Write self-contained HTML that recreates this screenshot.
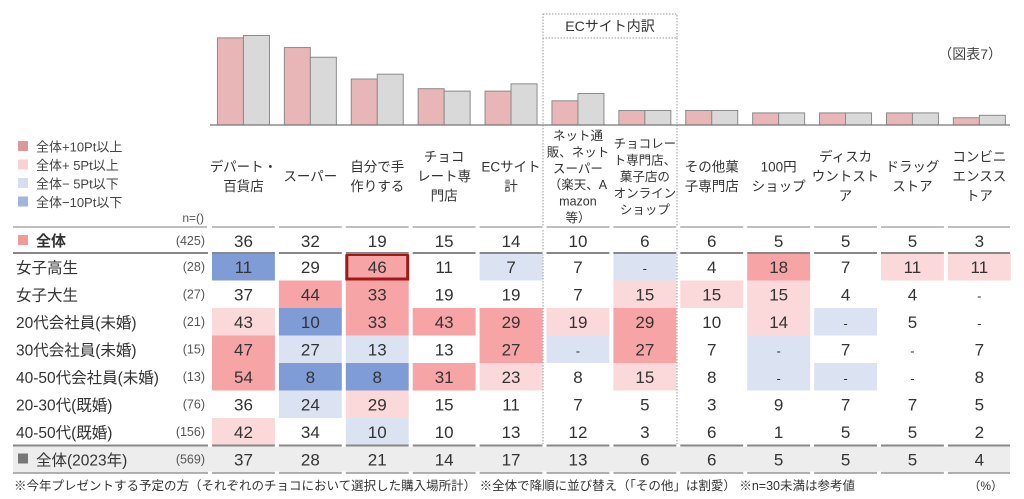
<!DOCTYPE html>
<html><head><meta charset="utf-8"><style>
html,body{margin:0;padding:0;background:#fff;}
svg{display:block;font-family:"Liberation Sans","Noto Sans CJK JP",sans-serif;}
</style></head><body>
<svg id="chart" width="1024" height="499" viewBox="0 0 1024 499"></svg>
<script>
const categories=[["デパート・","百貨店"],["スーパー"],["自分で手","作りする"],["チョコ","レート専","門店"],["ECサイト","計"],["ネット通","販、ネット","スーパー","（楽天、A","mazon","等）"],["チョコレー","ト専門店、","菓子店の","オンライン","ショップ"],["その他菓","子専門店"],["100円","ショップ"],["ディスカ","ウントスト","ア"],["ドラッグ","ストア"],["コンビニ","エンスス","トア"]];
const total2024=[36,32,19,15,14,10,6,6,5,5,5,3];
const total2023=[37,28,21,14,17,13,6,6,5,5,5,4];
const rowLabels=["女子高生","女子大生","20代会社員(未婚)","30代会社員(未婚)","40-50代会社員(未婚)","20-30代(既婚)","40-50代(既婚)"];
const rowN=["(28)","(27)","(21)","(15)","(13)","(76)","(156)"];
const rowValues=[
["11","29","46","11","7","7","-","4","18","7","11","11"],
["37","44","33","19","19","7","15","15","15","4","4","-"],
["43","10","33","43","29","19","29","10","14","-","5","-"],
["47","27","13","13","27","-","27","7","-","7","-","7"],
["54","8","8","31","23","8","15","8","-","-","-","8"],
["36","24","29","15","11","7","5","3","9","7","7","5"],
["42","34","10","10","13","12","3","6","1","5","5","2"]];
const rowLevels=[
[-2,0,2,0,-1,0,-1,0,2,0,1,1],
[0,2,2,0,0,0,1,1,1,0,0,0],
[1,-2,2,2,2,1,2,0,1,-1,0,0],
[2,-1,-1,0,2,-1,2,0,-1,0,0,0],
[2,-2,-2,2,1,0,1,0,-1,-1,0,0],
[0,-1,1,0,0,0,0,0,0,0,0,0],
[1,0,-1,0,0,0,0,0,0,0,0,0]];
const legendLabels=["全体+10Pt以上","全体+ 5Pt以上","全体− 5Pt以下","全体−10Pt以下"];

const svg=document.getElementById('chart');
const NS='http://www.w3.org/2000/svg';
function mk(tag,attrs,txt){const e=document.createElementNS(NS,tag);for(const k in attrs)e.setAttribute(k,attrs[k]);if(txt!==undefined)e.textContent=txt;svg.appendChild(e);return e;}
const colX0=210,colW=66.9;
const xCol=i=>colX0+i*colW;
const baseY=125,unit=2.42;
const yBar=v=>baseY-v*unit;
const rowTop=253,rowH=27.5;
const yRow=r=>rowTop+r*rowH;
const levelFill={"2":"#f7a4a7","1":"#fbd8d9","0":"none","-1":"#dbe3f3","-2":"#809cd7"};

let e=mk('rect',{x:543,y:14,width:134,height:24,fill:'none',stroke:'#999','stroke-dasharray':'1.5,1.5'});

e=mk('text',{x:610,y:31,'text-anchor':'middle','font-size':14,fill:'#333'},'ECサイト内訳');

[543,677].forEach((x,i)=>{const l=mk('line',{x1:x,y1:38,x2:x,y2:473,stroke:'#999','stroke-dasharray':'1.5,1.5'});});
e=mk('text',{x:1002,y:59,'text-anchor':'end','font-size':14,fill:'#444'},'（図表7）');


categories.forEach((c,i)=>{
  const cx=xCol(i)+colW/2;
  const b1=mk('rect',{x:cx-26,y:yBar(total2024[i]),width:26,height:total2024[i]*unit,fill:'#e9b6b8',stroke:'#8a8a8a','stroke-width':1});
  
  const b2=mk('rect',{x:cx,y:yBar(total2023[i]),width:26,height:total2023[i]*unit,fill:'#d9d9d9',stroke:'#8a8a8a','stroke-width':1});
  
  const lh=c.length>4?16.4:19.5, fs=c.length>4?12.5:13.5;
  const y0=(c.length>4?176:176)-(c.length-1)*lh/2+5;
  const t=mk('text',{'text-anchor':'middle','font-size':fs,fill:'#333'});
  
  c.forEach((ln,k)=>{const s=document.createElementNS(NS,'tspan');s.setAttribute('x',cx);s.setAttribute('y',y0+k*lh);s.textContent=ln;t.appendChild(s);});
});
e=mk('line',{x1:210,y1:baseY,x2:1010,y2:baseY,stroke:'#777','stroke-width':1.2});


const legCols=["#d99a9c","#f8d2d2","#d6ddef","#a2b5de"];
legendLabels.forEach((l,i)=>{
  const y=147+i*18.5;
  const r=mk('rect',{x:18,y:y-6,width:10,height:10,fill:legCols[i]});
  
  const t=mk('text',{x:36,y:y+4.5,'font-size':13,fill:'#444'},l);
  
});
e=mk('text',{x:204,y:222,'text-anchor':'end','font-size':12,fill:'#555'},'n=()');


e=mk('line',{x1:13,y1:227,x2:207,y2:227,stroke:'#999','stroke-width':1.2});

e=mk('line',{x1:212,y1:227,x2:1010,y2:227,stroke:'#999','stroke-width':1.2});


e=mk('rect',{x:18,y:235,width:10,height:10,fill:'#f29a9a'});

e=mk('text',{x:36,y:246,'font-size':15,'font-weight':'bold',fill:'#333'},'全体');

e=mk('text',{x:205,y:245,'text-anchor':'end','font-size':12.5,fill:'#555'},'(425)');

total2024.forEach((v,i)=>{const t=mk('text',{x:xCol(i)+colW/2,y:247,'text-anchor':'middle','font-size':17,fill:'#333'},v);});

e=mk('rect',{x:13,y:yRow(7),width:997,height:rowH,fill:'#ededed'});


rowValues.forEach((row,r)=>{
  const y=yRow(r);
  const lb=mk('text',{x:16,y:y+20,'font-size':15.5,fill:'#333'},rowLabels[r]);
  
  const nn=mk('text',{x:205,y:y+18,'text-anchor':'end','font-size':12.5,fill:'#555'},rowN[r]);
  
  row.forEach((v,i)=>{
    const f=levelFill[rowLevels[r][i]];
    if(f!=='none'){const c=mk('rect',{x:xCol(i)+2,y:y,width:colW-4,height:rowH,fill:f});}
    const t=mk('text',{x:xCol(i)+colW/2,y:y+20,'text-anchor':'middle','font-size':v==='-'?13:17,fill:'#333'},v);
    
  });
});
e=mk('rect',{x:xCol(2)+3,y:yRow(0)+1.5,width:colW-6,height:rowH-3,fill:'none',stroke:'#a01818','stroke-width':3});


const r7=yRow(7);
e=mk('rect',{x:18,y:r7+8,width:10,height:10,fill:'#777'});

e=mk('text',{x:36,y:r7+20,'font-size':15.5,fill:'#333'},'全体(2023年)');

e=mk('text',{x:205,y:r7+18,'text-anchor':'end','font-size':12.5,fill:'#555'},'(569)');

total2023.forEach((v,i)=>{const t=mk('text',{x:xCol(i)+colW/2,y:r7+20,'text-anchor':'middle','font-size':17,fill:'#333'},v);});

[[yRow(0),'#888',2],[yRow(7),'#888',2],[yRow(8),'#999',1.5]].forEach((a,k)=>{
  const l=mk('line',{x1:13,y1:a[0],x2:1010,y2:a[0],stroke:a[1],'stroke-width':a[2]});
  
});
[yRow(0),yRow(7),yRow(8),227].forEach((yy,k)=>{
  for(let i=0;i<12;i++){const g=mk('rect',{x:xCol(i)-2,y:yy-1.5,width:4,height:3,fill:'#fff'});}
});

e=mk('text',{x:14,y:490,'font-size':12.5,fill:'#333'},'※今年プレゼントする予定の方（それぞれのチョコにおいて選択した購入場所計） ※全体で降順に並び替え（「その他」は割愛） ※n=30未満は参考値');

e=mk('text',{x:1003,y:490,'text-anchor':'end','font-size':12,fill:'#333'},'（%）');

</script>
</body></html>
